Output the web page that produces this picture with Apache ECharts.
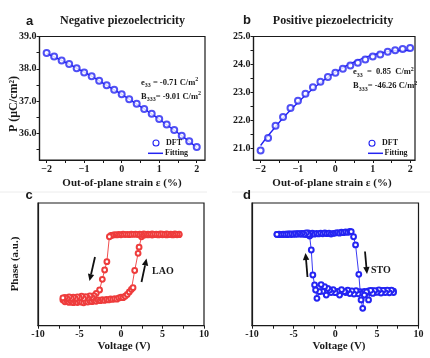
<!DOCTYPE html>
<html><head><meta charset="utf-8">
<script src="https://cdn.jsdelivr.net/npm/echarts@6/dist/echarts.min.js"></script>
<style>html,body{margin:0;padding:0;background:#fff}#c{width:430px;height:358px}</style>
</head><body><div id="c"></div>
<script>
// ---------- data ----------
const strain = [-2,-1.8,-1.6,-1.4,-1.2,-1,-0.8,-0.6,-0.4,-0.2,0,0.2,0.4,0.6,0.8,1,1.2,1.4,1.6,1.8,2];
const aDFT = [38.49,38.38,38.26,38.15,38.02,37.89,37.77,37.63,37.49,37.35,37.21,37.06,36.92,36.76,36.61,36.45,36.28,36.11,35.93,35.76,35.58];
const aFit = [38.48,38.37,38.26,38.14,38.02,37.90,37.77,37.63,37.49,37.35,37.21,37.06,36.91,36.76,36.60,36.44,36.27,36.10,35.93,35.75,35.57];
const bDFT = [20.92,21.37,21.81,22.12,22.44,22.70,22.95,23.18,23.38,23.55,23.70,23.85,23.96,24.06,24.18,24.28,24.36,24.45,24.51,24.55,24.59];
const bFit = [21.10,21.45,21.77,22.08,22.37,22.64,22.89,23.13,23.34,23.54,23.72,23.88,24.02,24.15,24.25,24.34,24.41,24.46,24.49,24.50,24.50];

// panel c (LAO) hysteresis: rising sweep then falling sweep
const cUpV = [-7,-6.75,-6.5,-6.25,-6,-5.75,-5.5,-5.25,-5,-4.75,-4.5,-4.25,-4,-3.75,-3.5,-3.25,-3,-2.75,-2.5,-2.25,-2,-1.75,-1.5,-1.25,-1,-0.75,-0.5,-0.25,0,0.25,0.5,0.75,1,1.25,1.45,1.65,2.06,2.18,2.47,2.75,3,3.25,3.5,3.75,4,4.25,4.5,4.75,5,5.25,5.5,5.75,6,6.25,6.5,6.75,7];
const cUpP = [21.0,19.5,20.3,19.0,19.8,18.8,19.6,18.9,19.9,19.2,18.7,19.8,19.3,20.4,19.6,20.5,19.9,21.0,20.4,21.2,20.6,21.5,21.0,21.8,21.4,22.0,21.6,22.6,23.2,22.8,24.0,25.5,27.5,29.5,31.0,45.0,59.0,64.0,72.5,73.8,74.3,74.0,74.4,73.9,74.2,74.5,74.0,74.3,74.1,74.5,74.0,74.3,74.4,74.0,74.3,74.1,74.2];
const cDownV = [7,6.75,6.5,6.25,6,5.75,5.5,5.25,5,4.75,4.5,4.25,4,3.75,3.5,3.25,3,2.75,2.5,2.25,2,1.75,1.5,1.25,1,0.75,0.5,0.25,0,-0.25,-0.5,-0.75,-1,-1.2,-1.4,-1.7,-1.97,-2.25,-2.58,-2.98,-3.25,-3.5,-3.75,-4,-4.25,-4.5,-4.75,-5,-5.25,-5.5,-5.75,-6,-6.25,-6.5,-6.75,-7];
const cDownP = [74.6,74.5,74.8,74.4,74.7,74.5,74.9,74.4,74.6,74.8,74.3,74.7,74.5,74.8,74.4,74.7,74.5,74.8,74.4,74.6,74.3,74.7,74.4,74.6,74.2,74.5,74.3,74.6,74.1,74.4,74.0,74.3,73.8,73.6,72.5,52.2,45.4,37.8,29.1,26.4,24.5,23.0,24.2,22.5,23.6,22.2,24.0,22.6,23.4,22.0,23.2,22.4,23.5,22.1,23.0,22.6];

// panel d (STO) hysteresis: rising sweep then falling sweep
const dUpV = [-7,-6.75,-6.5,-6.25,-6,-5.75,-5.5,-5.25,-5,-4.75,-4.5,-4.25,-4,-3.75,-3.5,-3.25,-3,-2.75,-2.5,-2.25,-2,-1.75,-1.5,-1.25,-1,-0.75,-0.5,-0.25,0,0.25,0.5,0.75,1,1.25,1.5,1.75,1.92,2.2,2.44,2.83,3.0,3.25,3.5,3.75,4,4.25,4.5,4.75,5,5.25,5.5,5.75,6,6.25,6.5,6.75,7];
const dUpP = [74.5,74.6,74.4,74.7,74.5,74.8,74.6,74.9,74.7,75.0,74.8,75.1,74.6,75.2,74.3,75.6,74.0,75.4,74.6,75.3,74.8,75.5,74.9,75.6,75.0,75.4,74.7,75.2,75.5,75.9,75.4,76.2,75.8,76.5,76.0,76.8,76.6,72.5,65.8,41.9,27.7,26.5,28.0,26.8,28.3,27.0,28.5,27.2,28.4,27.4,28.6,27.5,28.7,27.6,28.5,27.8,28.2];
const dDownV = [7,6.75,6.5,6.25,6,5.75,5.5,5.25,5,4.75,4.5,4.25,4,3.75,3.5,3.3,3.1,2.75,2.5,2.25,2,1.75,1.5,1.25,1.1,0.75,0.52,0.25,0,-0.25,-0.5,-0.68,-0.9,-1.08,-1.28,-1.5,-1.7,-1.9,-2.2,-2.36,-2.48,-2.69,-2.88,-3.08,-3.25,-3.5,-3.75,-4,-4.25,-4.5,-4.75,-5,-5.25,-5.5,-5.75,-6,-6.25,-6.5,-6.75,-7];
const dDownP = [27.0,28.9,26.8,29.0,27.0,28.8,26.6,29.1,27.2,28.6,26.3,28.8,21.0,27.5,25.0,14.2,21.0,26.0,28.5,25.8,28.4,26.2,29.0,27.0,27.7,29.4,25.0,28.0,26.9,29.3,27.0,29.1,30.5,25.0,31.8,28.0,33.5,27.7,22.3,29.1,33.2,41.3,61.7,73.1,74.2,75.6,74.5,75.3,74.6,75.0,74.4,74.9,74.3,74.8,74.2,74.6,74.3,74.5,74.2,74.4];

// tick values
const abXMajor = [-2,-1,0,1,2];
const abXTicks = [-2,-1.5,-1,-0.5,0,0.5,1,1.5,2];
const aYMajor = [36,37,38,39];
const aYTicks = [35.5,36,36.5,37,37.5,38,38.5,39];
const bYMajor = [21,22,23,24,25];
const bYTicks = [21,21.5,22,22.5,23,23.5,24,24.5,25];
const cdXMajor = [-10,-5,0,5,10];
const cdXTicks = [-10,-7.5,-5,-2.5,0,2.5,5,7.5,10];

// ---------- styling ----------
const SERIF = '"Liberation Serif", "Times New Roman", serif';
const SANS = '"Liberation Sans", Arial, sans-serif';
const BLUE = '#2424f2';
const RED = '#ee3c3c';
const INK = '#1a1a1a';

const pair = (xs, ys) => xs.map((x, i) => [x, ys[i]]);
const dashNum = v => (v < 0 ? '\u2212' + Math.abs(v) : String(v));
const hyNum = v => (v < 0 ? '-' + Math.abs(v) : String(v));

function xAx(g, min, max, major, ticks, fmt, margin) {
  return {
    type: 'value', gridIndex: g, min, max,
    axisLine: { show: true, onZero: false, lineStyle: { color: INK, width: 1.2 } },
    splitLine: { show: false },
    axisTick: { show: true, customValues: ticks, length: 3, lineStyle: { color: INK, width: 1 } },
    axisLabel: { customValues: major, formatter: fmt, margin: margin, fontFamily: SERIF, fontWeight: 'bold', fontSize: 10, color: INK }
  };
}
function yAx(g, min, max, major, ticks, showLab) {
  return {
    type: 'value', gridIndex: g, min, max,
    axisLine: { show: true, onZero: false, lineStyle: { color: INK, width: 1.2 } },
    splitLine: { show: false },
    axisTick: { show: showLab, customValues: ticks, length: 3, lineStyle: { color: INK, width: 1 } },
    axisLabel: { show: showLab, customValues: major, formatter: v => v.toFixed(1), margin: 3, fontFamily: SERIF, fontWeight: 'bold', fontSize: 10, color: INK }
  };
}

const grids = [
  { left: 39.5, top: 36.5, width: 165.5, height: 123.5 },
  { left: 253.5, top: 36.5, width: 161.5, height: 123.5 },
  { left: 38, top: 203, width: 166, height: 122.7 },
  { left: 252, top: 203, width: 166.5, height: 122.7 }
].map(g => Object.assign(g, { show: true, borderColor: INK, borderWidth: 1.2, backgroundColor: 'transparent' }));

function txt(x, y, text, font, align, rot) {
  const el = { type: 'text', x, y, z: 100, zlevel: 1, silent: true, style: { text, font, fill: INK, textAlign: align || 'center', textVerticalAlign: 'middle' } };
  if (rot) el.rotation = rot;
  return el;
}
function rich(x, y, text) {
  return { type: 'text', x, y, z: 100, zlevel: 1, silent: true, style: {
    text, textAlign: 'left', textVerticalAlign: 'middle',
    rich: {
      n: { fontFamily: SERIF, fontWeight: 'bold', fontSize: 8.5, fill: INK, lineHeight: 12, verticalAlign: 'middle' },
      s: { fontFamily: SERIF, fontWeight: 'bold', fontSize: 6, fill: INK, lineHeight: 12, verticalAlign: 'bottom' },
      p: { fontFamily: SERIF, fontWeight: 'bold', fontSize: 6, fill: INK, lineHeight: 12, verticalAlign: 'top' }
    } } };
}
function arrow(x1, y1, x2, y2) {
  const dx = x2 - x1, dy = y2 - y1, L = Math.hypot(dx, dy), ux = dx / L, uy = dy / L;
  const hl = 7, hw = 3.2, bx = x2 - ux * hl, by = y2 - uy * hl;
  return [
    { type: 'line', z: 100, zlevel: 1, silent: true, shape: { x1, y1, x2: bx, y2: by }, style: { stroke: '#111', lineWidth: 1.8 } },
    { type: 'polygon', z: 100, zlevel: 1, silent: true, shape: { points: [[x2, y2], [bx - uy * hw, by + ux * hw], [bx + uy * hw, by - ux * hw]] }, style: { fill: '#111' } }
  ];
}
function legendKey(cx, cy, lx1, lx2, ly, tx1, tx2) {
  return [
    { type: 'circle', z: 100, zlevel: 1, silent: true, shape: { cx, cy, r: 3 }, style: { fill: '#fff', stroke: BLUE, lineWidth: 1.1 } },
    txt(tx1, cy, 'DFT', 'bold 8px ' + SERIF, 'left'),
    { type: 'line', z: 100, zlevel: 1, silent: true, shape: { x1: lx1, y1: ly, x2: lx2, y2: ly }, style: { stroke: BLUE, lineWidth: 1.5 } },
    txt(tx2, ly, 'Fitting', 'bold 8px ' + SERIF, 'left')
  ];
}

const graphic = [
  { type: 'line', silent: true, shape: { x1: 0, y1: 192, x2: 207, y2: 192 }, style: { stroke: '#ececec', lineWidth: 1 } },
  { type: 'line', silent: true, shape: { x1: 232, y1: 192, x2: 430, y2: 192 }, style: { stroke: '#ececec', lineWidth: 1 } },
  txt(29.5, 21, 'a', 'bold 13px ' + SANS),
  txt(247, 20.5, 'b', 'bold 13px ' + SANS),
  txt(29, 195.5, 'c', 'bold 13px ' + SANS),
  txt(247, 195, 'd', 'bold 13px ' + SANS),
  txt(122.5, 21, 'Negative piezoelectricity', 'bold 12px ' + SERIF),
  txt(333, 21, 'Positive piezoelectricity', 'bold 12px ' + SERIF),
  txt(122, 183.5, 'Out-of-plane strain \u03b5 (%)', 'bold 11px ' + SERIF),
  txt(332, 183.5, 'Out-of-plane strain \u03b5 (%)', 'bold 11px ' + SERIF),
  txt(14, 104, 'P (\u03bcC/cm\u00b2)', 'bold 12px ' + SERIF, 'center', Math.PI / 2),
  txt(15.5, 264, 'Phase (a.u.)', 'bold 11px ' + SERIF, 'center', Math.PI / 2),
  txt(124, 346.5, 'Voltage (V)', 'bold 11px ' + SERIF),
  txt(339, 346.5, 'Voltage (V)', 'bold 11px ' + SERIF),
  rich(141, 82.5, '{n|e}{s|33}{n| = -0.71 C/m}{p|2}'),
  rich(141, 96.5, '{n|B}{s|333}{n|= -9.01 C/m}{p|2}'),
  rich(353, 72, '{n|e}{s|33}{n|  =  0.85  C/m}{p|2}'),
  rich(353, 86, '{n|B}{s|333}{n|= -46.26 C/m}{p|2}'),
  ...legendKey(156, 143, 148, 163, 153.3, 166, 165),
  ...legendKey(372, 143.3, 368, 383, 153.3, 382, 384.5),
  txt(152, 271, 'LAO', 'bold 10px ' + SERIF, 'left'),
  txt(371, 270.5, 'STO', 'bold 10px ' + SERIF, 'left'),
  ...arrow(95, 257, 89.5, 281),
  ...arrow(141.5, 282, 146.5, 258.5),
  ...arrow(307.5, 277, 305.5, 253),
  ...arrow(365, 251.5, 367, 274)
];

const option = {
  animation: false,
  backgroundColor: '#fff',
  grid: grids,
  xAxis: [
    xAx(0, -2.19, 2.22, abXMajor, abXTicks, dashNum, 4),
    xAx(1, -2.19, 2.13, abXMajor, abXTicks, dashNum, 4),
    xAx(2, -10, 10, cdXMajor, cdXTicks, hyNum, 4),
    xAx(3, -10, 10, cdXMajor, cdXTicks, hyNum, 4)
  ],
  yAxis: [
    yAx(0, 35.18, 39.0, aYMajor, aYTicks, true),
    yAx(1, 20.58, 25.0, bYMajor, bYTicks, true),
    yAx(2, 0, 100, [], [], false),
    yAx(3, 0, 100, [], [], false)
  ],
  series: [
    { type: 'line', name: 'Fitting', xAxisIndex: 0, yAxisIndex: 0, data: pair(strain, aFit), smooth: true, symbol: 'none', lineStyle: { color: BLUE, width: 1.4 }, itemStyle: { color: BLUE }, z: 2 },
    { type: 'scatter', name: 'DFT', xAxisIndex: 0, yAxisIndex: 0, data: pair(strain, aDFT), symbol: 'emptyCircle', symbolSize: 6, itemStyle: { color: BLUE, borderColor: BLUE, borderWidth: 1 }, z: 3 },
    { type: 'line', name: 'Fitting', xAxisIndex: 1, yAxisIndex: 1, data: pair(strain, bFit), smooth: true, symbol: 'none', lineStyle: { color: BLUE, width: 1.4 }, itemStyle: { color: BLUE }, z: 2 },
    { type: 'scatter', name: 'DFT', xAxisIndex: 1, yAxisIndex: 1, data: pair(strain, bDFT), symbol: 'emptyCircle', symbolSize: 6, itemStyle: { color: BLUE, borderColor: BLUE, borderWidth: 1 }, z: 3 },
    { type: 'line', name: 'LAO', xAxisIndex: 2, yAxisIndex: 2, data: pair(cUpV, cUpP).concat(pair(cDownV, cDownP)), symbol: 'emptyCircle', symbolSize: 4.8, showAllSymbol: true, lineStyle: { color: RED, width: 0.9 }, itemStyle: { color: RED, borderColor: RED, borderWidth: 0.9 } },
    { type: 'line', name: 'STO', xAxisIndex: 3, yAxisIndex: 3, data: pair(dUpV, dUpP).concat(pair(dDownV, dDownP)), symbol: 'emptyCircle', symbolSize: 4.8, showAllSymbol: true, lineStyle: { color: BLUE, width: 0.9 }, itemStyle: { color: BLUE, borderColor: BLUE, borderWidth: 0.9 } }
  ],
  graphic: graphic
};

const chart = echarts.init(document.getElementById('c'), null, { renderer: 'canvas' });
chart.setOption(option);
</script>
</body></html>
